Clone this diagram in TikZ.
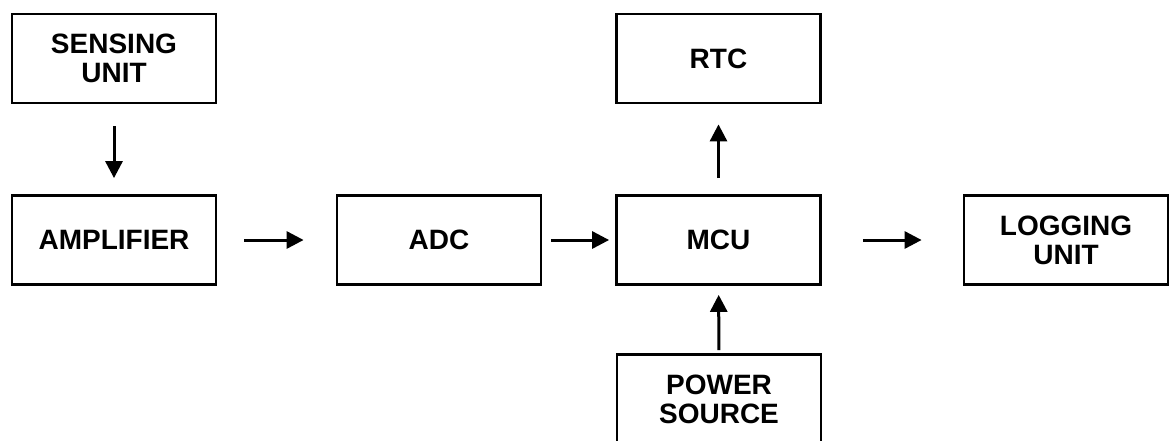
\documentclass[tikz,border=0pt]{standalone}
\usepackage{fontspec}
\setmainfont{Liberation Sans}
\usetikzlibrary{arrows.meta}
\begin{document}
\begin{tikzpicture}[x=1pt,y=-1pt,
  blk/.style={draw, line width=2.8pt, minimum width=204pt, minimum height=89pt, align=center,
    inner sep=0pt, font=\fontsize{28}{29}\selectfont\bfseries},
  conn/.style={line width=3pt, -{Triangle[length=17pt,width=17pt]}}]
\clip (0,0) rectangle (1170,440);
\node[blk] (sense) at (114,58.5) {SENSING\\UNIT};
\node[blk] (amp) at (114,240) {AMPLIFIER};
\node[blk] (adc) at (439,240) {ADC};
\node[blk] (mcu) at (718.5,240) {MCU};
\node[blk] (rtc) at (718.5,58.5) {RTC};
\node[blk] (pwr) at (719,399) {POWER\\SOURCE};
\node[blk] (log) at (1066,240) {LOGGING\\UNIT};
\draw[conn, shorten <=22pt, shorten >=16pt] (sense) -- (amp);
\draw[conn, shorten <=27pt, shorten >=32pt] (amp) -- (adc);
\draw[conn, shorten <=9pt, shorten >=6pt] (adc) -- (mcu);
\draw[conn, shorten <=41pt, shorten >=41pt] (mcu) -- (log);
\draw[conn, shorten <=16pt, shorten >=20pt] (mcu) -- (rtc);
\draw[conn, shorten <=3pt, shorten >=9pt] (pwr) -- (mcu);
\end{tikzpicture}
\end{document}
